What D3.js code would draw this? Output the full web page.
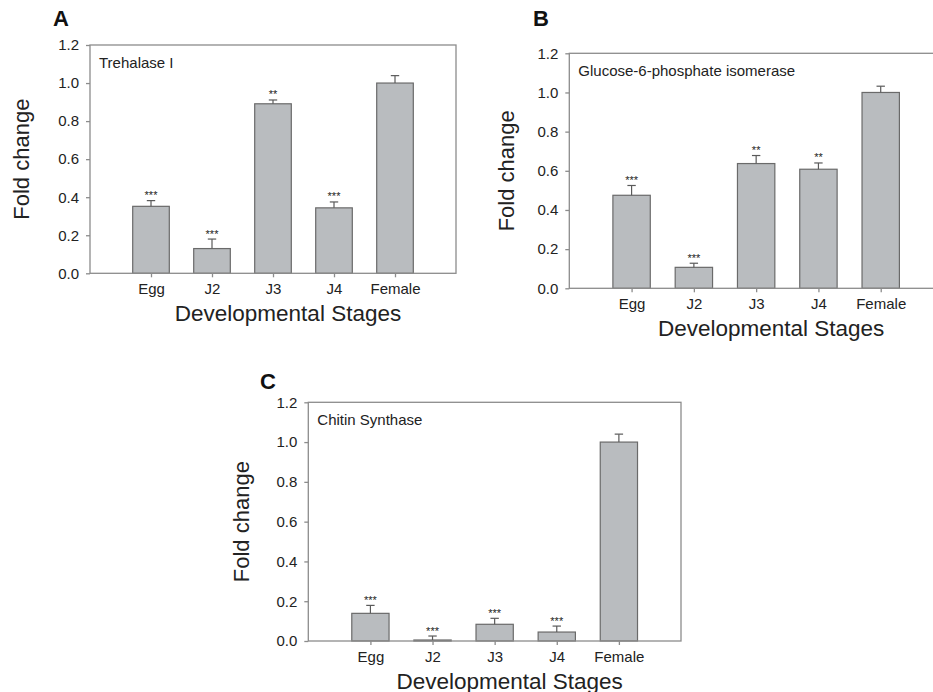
<!DOCTYPE html>
<html>
<head>
<meta charset="utf-8">
<script src="https://cdn.jsdelivr.net/npm/d3@7"></script>
<style>
  body { margin: 0; background: #fff; }
  svg { display: block; font-family: Arial, "Liberation Sans", sans-serif; }
</style>
</head>
<body>
<svg id="chart" width="933" height="692"></svg>
<script>
// Data
const stages = ["Egg", "J2", "J3", "J4", "Female"]
const yTicks = [0, 0.2, 0.4, 0.6, 0.8, 1.0, 1.2]

const trehalaseMean = [0.352, 0.130, 0.891, 0.344, 1.000]
const trehalaseErr = [0.030, 0.050, 0.020, 0.031, 0.039]
const trehalaseSig = ["***", "***", "**", "***", ""]

const g6piMean = [0.475, 0.107, 0.637, 0.608, 1.000]
const g6piErr = [0.050, 0.021, 0.041, 0.032, 0.032]
const g6piSig = ["***", "***", "**", "**", ""]

const chitinMean = [0.139, 0.005, 0.084, 0.045, 1.000]
const chitinErr = [0.040, 0.020, 0.030, 0.030, 0.040]
const chitinSig = ["***", "***", "***", "***", ""]

const svg = d3.select("#chart")

const frameColor = "#8c8c8c"
const textColor = "#222"

// panel layout (pixel boxes for the plot area)
const panels = [
    {letter: "A", gene: "Trehalase I", mean: trehalaseMean, err: trehalaseErr, sig: trehalaseSig,
     left: 90, right: 456, top: 45, bottom: 273.3, letterX: 53, letterY: 26, yLabelX: 29},
    {letter: "B", gene: "Glucose-6-phosphate isomerase", mean: g6piMean, err: g6piErr, sig: g6piSig,
     left: 569.3, right: 943, top: 53.3, bottom: 288.3, letterX: 533, letterY: 26, yLabelX: 514},
    {letter: "C", gene: "Chitin Synthase", mean: chitinMean, err: chitinErr, sig: chitinSig,
     left: 308.3, right: 681, top: 402.3, bottom: 641, letterX: 260, letterY: 389, yLabelX: 249}
]

panels.forEach(drawPanel)

function drawPanel(p) {
    const x = d3.scaleLinear().domain([0, stages.length + 1]).range([p.left, p.right])
    const y = d3.scaleLinear().domain([0, 1.2]).range([p.bottom, p.top])
    const step = x(1) - x(0)
    const barW = step * 0.6

    const g = svg.append("g")

    // bars
    g.selectAll("rect.bar")
        .data(p.mean)
        .enter().append("rect")
        .attr("class", "bar")
        .attr("x", (d, i) => x(i + 1) - barW / 2)
        .attr("y", d => y(d))
        .attr("width", barW)
        .attr("height", d => y(0) - y(d))
        .style("fill", "#b9bcbf")
        .style("stroke", "#6a6a6a")
        .style("stroke-width", 1.2)

    // error bars (upper only)
    const eb = g.selectAll("g.err")
        .data(p.mean)
        .enter().append("g")
        .attr("class", "err")
    eb.append("line")
        .attr("x1", (d, i) => x(i + 1)).attr("x2", (d, i) => x(i + 1))
        .attr("y1", d => y(d)).attr("y2", (d, i) => y(d + p.err[i]))
    eb.append("line")
        .attr("x1", (d, i) => x(i + 1) - 4.2).attr("x2", (d, i) => x(i + 1) + 4.2)
        .attr("y1", (d, i) => y(d + p.err[i])).attr("y2", (d, i) => y(d + p.err[i]))
    eb.selectAll("line").style("stroke", "#5a5a5a").style("stroke-width", 1.2)

    // significance stars
    g.selectAll("text.sig")
        .data(p.mean)
        .enter().append("text")
        .attr("class", "sig")
        .attr("x", (d, i) => x(i + 1))
        .attr("y", (d, i) => y(d + p.err[i]) - 1.5)
        .attr("text-anchor", "middle")
        .style("font-size", "11px")
        .style("fill", textColor)
        .text((d, i) => p.sig[i])

    // frame
    g.append("rect")
        .attr("x", p.left).attr("y", p.top)
        .attr("width", p.right - p.left).attr("height", p.bottom - p.top)
        .style("fill", "none")
        .style("stroke", frameColor)
        .style("stroke-width", 1.3)

    // axes
    const yAxis = g.append("g")
        .attr("transform", `translate(${p.left},0)`)
        .call(d3.axisLeft(y).tickValues(yTicks).tickFormat(d3.format(".1f"))
            .tickSize(4).tickPadding(7))
    const xAxis = g.append("g")
        .attr("transform", `translate(0,${p.bottom})`)
        .call(d3.axisBottom(x).tickValues(d3.range(1, stages.length + 1))
            .tickFormat(d => stages[d - 1]).tickSize(4).tickPadding(6))
    ;[yAxis, xAxis].forEach(a => {
        a.select(".domain").remove()
        a.selectAll(".tick line").style("stroke", frameColor).style("stroke-width", 1.3)
        a.selectAll(".tick text")
            .style("font-size", "15px")
            .style("fill", textColor)
            .style("font-family", "Arial, 'Liberation Sans', sans-serif")
    })

    // gene name
    g.append("text")
        .attr("x", p.left + 9)
        .attr("y", p.top + 22.5)
        .style("font-size", "15px")
        .style("fill", textColor)
        .text(p.gene)

    // axis titles
    g.append("text")
        .attr("transform", `translate(${p.yLabelX},${(p.top + p.bottom) / 2}) rotate(-90)`)
        .attr("text-anchor", "middle")
        .style("font-size", "22px")
        .style("fill", textColor)
        .text("Fold change")
    g.append("text")
        .attr("x", (x(1) + x(5)) / 2 + 15)
        .attr("y", p.bottom + 47.5)
        .attr("text-anchor", "middle")
        .style("font-size", "22.5px")
        .style("fill", textColor)
        .text("Developmental Stages")

    // panel letter
    g.append("text")
        .attr("x", p.letterX)
        .attr("y", p.letterY)
        .style("font-size", "22px")
        .style("font-weight", "bold")
        .style("fill", "#111")
        .text(p.letter)
}
</script>
</body>
</html>
